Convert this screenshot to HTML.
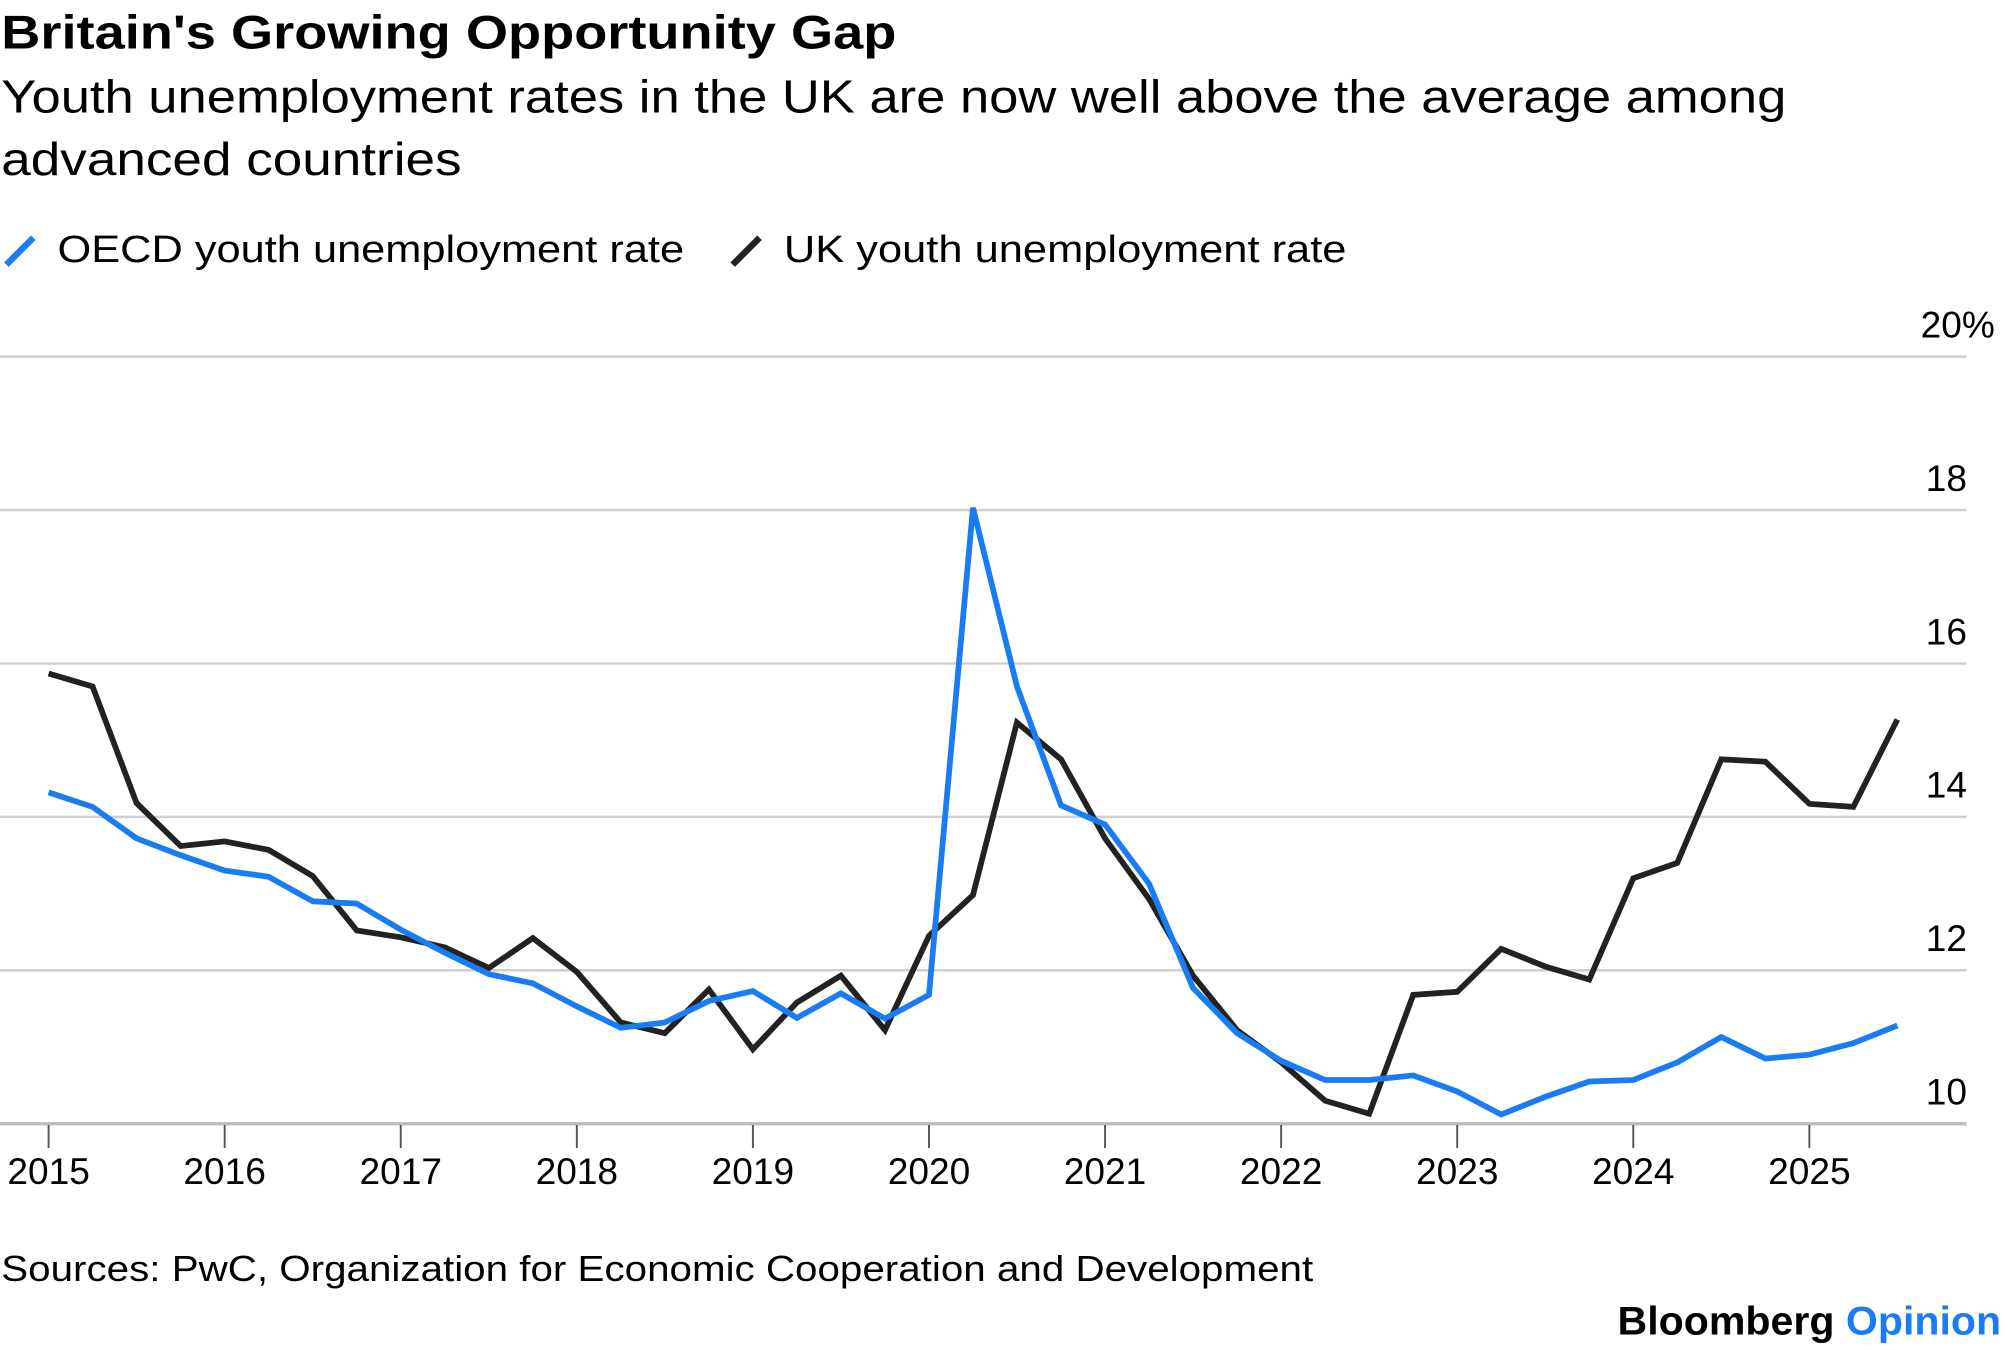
<!DOCTYPE html>
<html><head><meta charset="utf-8"><style>
html,body{margin:0;padding:0;background:#fff;}
svg{display:block;font-family:"Liberation Sans",Arial,sans-serif;}
</style></head><body>
<svg id="chart" width="2005" height="1350" viewBox="0 0 1568 1056" preserveAspectRatio="none" xmlns="http://www.w3.org/2000/svg">
<text x="1" y="38" font-size="37" font-weight="bold" fill="#000" textLength="700" lengthAdjust="spacingAndGlyphs">Britain's Growing Opportunity Gap</text>
<text x="1" y="88" font-size="36" fill="#000" textLength="1396" lengthAdjust="spacingAndGlyphs">Youth unemployment rates in the UK are now well above the average among</text>
<text x="1" y="137" font-size="36" fill="#000" textLength="360" lengthAdjust="spacingAndGlyphs">advanced countries</text>
<g>
<line x1="5" y1="207" x2="26" y2="186" stroke="#1a7cf5" stroke-width="5"/>
<text x="45" y="205" font-size="30" textLength="490" lengthAdjust="spacingAndGlyphs">OECD youth unemployment rate</text>
<line x1="573" y1="207" x2="594" y2="186" stroke="#222" stroke-width="5"/>
<text x="613" y="205" font-size="30" textLength="440" lengthAdjust="spacingAndGlyphs">UK youth unemployment rate</text>
</g>
<g id="grid"></g><g id="xaxis"></g><g id="series"></g>
<text x="1" y="1002" font-size="28" textLength="1026" lengthAdjust="spacingAndGlyphs">Sources: PwC, Organization for Economic Cooperation and Development</text>
<text x="1565" y="1044" font-size="31" font-weight="bold" text-anchor="end" textLength="300" lengthAdjust="spacingAndGlyphs"><tspan fill="#000">Bloomberg </tspan><tspan fill="#1a7cf5">Opinion</tspan></text>
</svg>
<script>
const yTicks = [10, 12, 14, 16, 18, 20];
const yTickLabels = ["10", "12", "14", "16", "18", "20%"];
const years = [2015,2016,2017,2018,2019,2020,2021,2022,2023,2024,2025];
const quarters = [2015,2015.25,2015.5,2015.75,2016,2016.25,2016.5,2016.75,2017,2017.25,2017.5,2017.75,2018,2018.25,2018.5,2018.75,2019,2019.25,2019.5,2019.75,2020,2020.25,2020.5,2020.75,2021,2021.25,2021.5,2021.75,2022,2022.25,2022.5,2022.75,2023,2023.25,2023.5,2023.75,2024,2024.25,2024.5,2024.75,2025,2025.25,2025.5];
const oecd = [14.32,14.13,13.72,13.5,13.3,13.22,12.9,12.87,12.53,12.23,11.95,11.83,11.53,11.25,11.32,11.6,11.73,11.38,11.7,11.37,11.68,18.03,15.7,14.15,13.9,13.13,11.77,11.18,10.82,10.57,10.57,10.63,10.42,10.12,10.35,10.55,10.57,10.8,11.13,10.85,10.9,11.05,11.28];
const uk = [15.87,15.7,14.18,13.62,13.68,13.57,13.23,12.52,12.43,12.3,12.03,12.42,11.98,11.32,11.18,11.75,10.97,11.58,11.93,11.22,12.45,12.98,15.23,14.75,13.72,12.93,11.93,11.22,10.8,10.3,10.13,11.68,11.72,12.28,12.05,11.88,13.2,13.4,14.75,14.72,14.17,14.13,15.27];

const NS = "http://www.w3.org/2000/svg";
const xs = t => 38 + (t - 2015) * 137.7;
const ys = v => 879 - (v - 10) * 60;
function mk(tag, attrs, parent){const e=document.createElementNS(NS,tag);for(const k in attrs)e.setAttribute(k,attrs[k]);parent.appendChild(e);return e;}

const grid = document.getElementById('grid');
yTicks.forEach((v,i)=>{
  const l = mk('line',{x1:0,x2:1538,y1:ys(v),y2:ys(v),stroke:i===0?'#bbb':'#d0d0d0','stroke-width':i===0?2.5:2},grid);
  
  
  const t = mk('text',{x:1538,y:ys(v)-15,'font-size':29,'text-anchor':'start',fill:'#000'},grid);
  t.setAttribute('x', i===5 ? 1502 : 1506);
  t.textContent = yTickLabels[i];
  
  
});
const xa = document.getElementById('xaxis');
years.forEach(y=>{
  const tk = mk('line',{x1:xs(y),x2:xs(y),y1:880,y2:898,stroke:'#555','stroke-width':1.5},xa);
  
  
  const t = mk('text',{x:xs(y),y:926,'font-size':29,'text-anchor':'middle'},xa);
  t.textContent = y;
  
  
});
const sg = document.getElementById('series');
function line(vals,color,name){
  const d = vals.map((v,i)=>(i?'L':'M')+xs(quarters[i]).toFixed(1)+','+ys(v).toFixed(1)).join(' ');
  const p = mk('path',{d:d,fill:'none',stroke:color,'stroke-width':4.5,'stroke-linejoin':'miter'},sg);
  
  
}
line(uk,'#222','uk-series-line');
line(oecd,'#1a7cf5','oecd-series-line');
</script>
</body></html>
